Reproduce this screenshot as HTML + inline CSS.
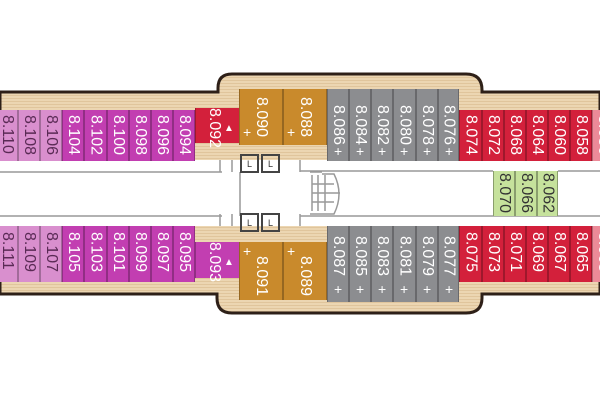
<!DOCTYPE html>
<html><head><meta charset="utf-8"><style>
body{margin:0;width:600px;height:400px;background:#fff;overflow:hidden;position:relative;font-family:"Liberation Sans",sans-serif}
.c{position:absolute;box-sizing:border-box;border-left:1px solid rgba(0,0,0,.25);border-right:1px solid rgba(0,0,0,.25)}
.t{position:absolute;writing-mode:vertical-rl;font-size:16px;line-height:16px;color:#fff;left:50%;transform:translateX(-50%);white-space:nowrap}
.lp{background:#d98fce}.lp .t{color:#5a2a55}
.mg{background:#c23eb1}.rd{background:#d3203b}.pk{background:#ec8a98}
.or{background:#c98a2c}.gr{background:#8c8d90}.gn{background:#c6e29c;border-color:rgba(0,0,0,.3)}.gn .t{color:#333}
.p{position:absolute;color:#fff;font-size:14px;line-height:14px}
</style></head><body>
<svg width="600" height="400" style="position:absolute;left:0;top:0">
<defs><pattern id="w" width="6" height="3" patternUnits="userSpaceOnUse"><rect width="6" height="3" fill="#ecd6b2"/><rect y="2" width="6" height="1" fill="#e0c59c"/></pattern></defs>
<path d="M0,92 H218 V88 Q218,74 232,74 H466 Q482,74 482,90 V92 H600 V294 H482 V298 Q482,313 466,313 H232 Q217,313 217,298 V294 H0 Z" fill="url(#w)" stroke="#2e2018" stroke-width="3"/>
<rect x="0" y="160" width="600" height="66" fill="#fff"/>
<g stroke="#999" stroke-width="1.5" fill="none">
<line x1="0" y1="172" x2="222" y2="172"/><line x1="0" y1="216" x2="222" y2="216"/>
<line x1="300" y1="171" x2="493" y2="171"/><line x1="558" y1="171" x2="600" y2="171"/>
<line x1="300" y1="216" x2="600" y2="216"/>
<line x1="240" y1="172" x2="240" y2="216"/>
<path d="M220,160 v12 M232,160 v12 M300,160 v12 M220,226 v-12 M232,226 v-12 M300,226 v-12"/>
<path d="M310,172 h12 M310,214 h12 M312,175 v36 M318,175 v36 M325,175 v36 M322,174 h12 q10,20 0,40 h-12"/>
<line x1="312" y1="184" x2="334" y2="184"/><line x1="312" y1="193" x2="340" y2="193"/><line x1="312" y1="202" x2="334" y2="202"/>
</g>
<g stroke="#444" stroke-width="2" fill="none">
<rect x="241" y="155" width="17" height="17"/><rect x="262" y="155" width="17" height="17"/>
<rect x="241" y="214" width="17" height="17"/><rect x="262" y="214" width="17" height="17"/>
</g>
<g font-size="9" font-family="Liberation Sans" fill="#333"><text x="247" y="167">L</text><text x="268" y="167">L</text><text x="247" y="226">L</text><text x="268" y="226">L</text></g>
</svg>

<!-- top row -->
<div class="c lp" style="left:-4px;top:110px;width:22px;height:51px"><div class="t" style="top:5px">8.110</div></div>
<div class="c lp" style="left:18px;top:110px;width:22px;height:51px"><div class="t" style="top:5px">8.108</div></div>
<div class="c lp" style="left:40px;top:110px;width:22px;height:51px"><div class="t" style="top:5px">8.106</div></div>
<div class="c mg" style="left:62px;top:110px;width:22px;height:51px"><div class="t" style="top:5px">8.104</div></div>
<div class="c mg" style="left:84px;top:110px;width:23px;height:51px"><div class="t" style="top:5px">8.102</div></div>
<div class="c mg" style="left:107px;top:110px;width:22px;height:51px"><div class="t" style="top:5px">8.100</div></div>
<div class="c mg" style="left:129px;top:110px;width:22px;height:51px"><div class="t" style="top:5px">8.098</div></div>
<div class="c mg" style="left:151px;top:110px;width:22px;height:51px"><div class="t" style="top:5px">8.096</div></div>
<div class="c mg" style="left:173px;top:110px;width:22px;height:51px"><div class="t" style="top:5px">8.094</div></div>
<div class="c rd" style="left:195px;top:108px;width:45px;height:35px"><div class="t" style="top:0px;left:18px">8.092</div><div class="p" style="left:28px;top:14px;font-size:10px">▲</div></div>
<div class="c or" style="left:239px;top:89px;width:44px;height:56px"><div class="t" style="top:8px">8.090</div><div class="p" style="left:3px;top:36px">+</div></div>
<div class="c or" style="left:283px;top:89px;width:44px;height:56px"><div class="t" style="top:8px">8.088</div><div class="p" style="left:3px;top:36px">+</div></div>
<div class="c gr" style="left:327px;top:89px;width:22px;height:72px"><div class="t" style="top:16px">8.086</div><div class="p" style="left:6px;top:55px">+</div></div>
<div class="c gr" style="left:349px;top:89px;width:22px;height:72px"><div class="t" style="top:16px">8.084</div><div class="p" style="left:6px;top:55px">+</div></div>
<div class="c gr" style="left:371px;top:89px;width:22px;height:72px"><div class="t" style="top:16px">8.082</div><div class="p" style="left:6px;top:55px">+</div></div>
<div class="c gr" style="left:393px;top:89px;width:23px;height:72px"><div class="t" style="top:16px">8.080</div><div class="p" style="left:6px;top:55px">+</div></div>
<div class="c gr" style="left:416px;top:89px;width:22px;height:72px"><div class="t" style="top:16px">8.078</div><div class="p" style="left:6px;top:55px">+</div></div>
<div class="c gr" style="left:438px;top:89px;width:21px;height:72px"><div class="t" style="top:16px">8.076</div><div class="p" style="left:6px;top:55px">+</div></div>
<div class="c rd" style="left:459px;top:110px;width:23px;height:51px"><div class="t" style="top:5px">8.074</div></div>
<div class="c rd" style="left:482px;top:110px;width:22px;height:51px"><div class="t" style="top:5px">8.072</div></div>
<div class="c rd" style="left:504px;top:110px;width:22px;height:51px"><div class="t" style="top:5px">8.068</div></div>
<div class="c rd" style="left:526px;top:110px;width:22px;height:51px"><div class="t" style="top:5px">8.064</div></div>
<div class="c rd" style="left:548px;top:110px;width:22px;height:51px"><div class="t" style="top:5px">8.060</div></div>
<div class="c rd" style="left:570px;top:110px;width:22px;height:51px"><div class="t" style="top:5px">8.058</div></div>
<div class="c pk" style="left:592px;top:110px;width:22px;height:51px"><div class="t" style="top:5px">8.056</div></div>

<!-- green -->
<div class="c gn" style="left:493px;top:171px;width:22px;height:45px"><div class="t" style="top:2px">8.070</div></div>
<div class="c gn" style="left:515px;top:171px;width:22px;height:45px"><div class="t" style="top:2px">8.066</div></div>
<div class="c gn" style="left:537px;top:171px;width:21px;height:45px"><div class="t" style="top:2px">8.062</div></div>

<!-- bottom row -->
<div class="c lp" style="left:-4px;top:226px;width:22px;height:56px"><div class="t" style="top:6px">8.111</div></div>
<div class="c lp" style="left:18px;top:226px;width:22px;height:56px"><div class="t" style="top:6px">8.109</div></div>
<div class="c lp" style="left:40px;top:226px;width:22px;height:56px"><div class="t" style="top:6px">8.107</div></div>
<div class="c mg" style="left:62px;top:226px;width:22px;height:56px"><div class="t" style="top:6px">8.105</div></div>
<div class="c mg" style="left:84px;top:226px;width:23px;height:56px"><div class="t" style="top:6px">8.103</div></div>
<div class="c mg" style="left:107px;top:226px;width:22px;height:56px"><div class="t" style="top:6px">8.101</div></div>
<div class="c mg" style="left:129px;top:226px;width:22px;height:56px"><div class="t" style="top:6px">8.099</div></div>
<div class="c mg" style="left:151px;top:226px;width:22px;height:56px"><div class="t" style="top:6px">8.097</div></div>
<div class="c mg" style="left:173px;top:226px;width:22px;height:56px"><div class="t" style="top:6px">8.095</div></div>
<div class="c mg" style="left:195px;top:242px;width:45px;height:36px"><div class="t" style="top:0px;left:18px">8.093</div><div class="p" style="left:28px;top:14px;font-size:10px">▲</div></div>
<div class="c or" style="left:239px;top:242px;width:44px;height:58px"><div class="t" style="top:14px">8.091</div><div class="p" style="left:3px;top:2px">+</div></div>
<div class="c or" style="left:283px;top:242px;width:44px;height:58px"><div class="t" style="top:14px">8.089</div><div class="p" style="left:3px;top:2px">+</div></div>
<div class="c gr" style="left:327px;top:226px;width:22px;height:76px"><div class="t" style="top:10px">8.087</div><div class="p" style="left:6px;top:56px">+</div></div>
<div class="c gr" style="left:349px;top:226px;width:22px;height:76px"><div class="t" style="top:10px">8.085</div><div class="p" style="left:6px;top:56px">+</div></div>
<div class="c gr" style="left:371px;top:226px;width:22px;height:76px"><div class="t" style="top:10px">8.083</div><div class="p" style="left:6px;top:56px">+</div></div>
<div class="c gr" style="left:393px;top:226px;width:23px;height:76px"><div class="t" style="top:10px">8.081</div><div class="p" style="left:6px;top:56px">+</div></div>
<div class="c gr" style="left:416px;top:226px;width:22px;height:76px"><div class="t" style="top:10px">8.079</div><div class="p" style="left:6px;top:56px">+</div></div>
<div class="c gr" style="left:438px;top:226px;width:21px;height:76px"><div class="t" style="top:10px">8.077</div><div class="p" style="left:6px;top:56px">+</div></div>
<div class="c rd" style="left:459px;top:226px;width:23px;height:56px"><div class="t" style="top:6px">8.075</div></div>
<div class="c rd" style="left:482px;top:226px;width:22px;height:56px"><div class="t" style="top:6px">8.073</div></div>
<div class="c rd" style="left:504px;top:226px;width:22px;height:56px"><div class="t" style="top:6px">8.071</div></div>
<div class="c rd" style="left:526px;top:226px;width:22px;height:56px"><div class="t" style="top:6px">8.069</div></div>
<div class="c rd" style="left:548px;top:226px;width:22px;height:56px"><div class="t" style="top:6px">8.067</div></div>
<div class="c rd" style="left:570px;top:226px;width:22px;height:56px"><div class="t" style="top:6px">8.065</div></div>
<div class="c pk" style="left:592px;top:226px;width:22px;height:56px"><div class="t" style="top:6px">8.063</div></div>
</body></html>
